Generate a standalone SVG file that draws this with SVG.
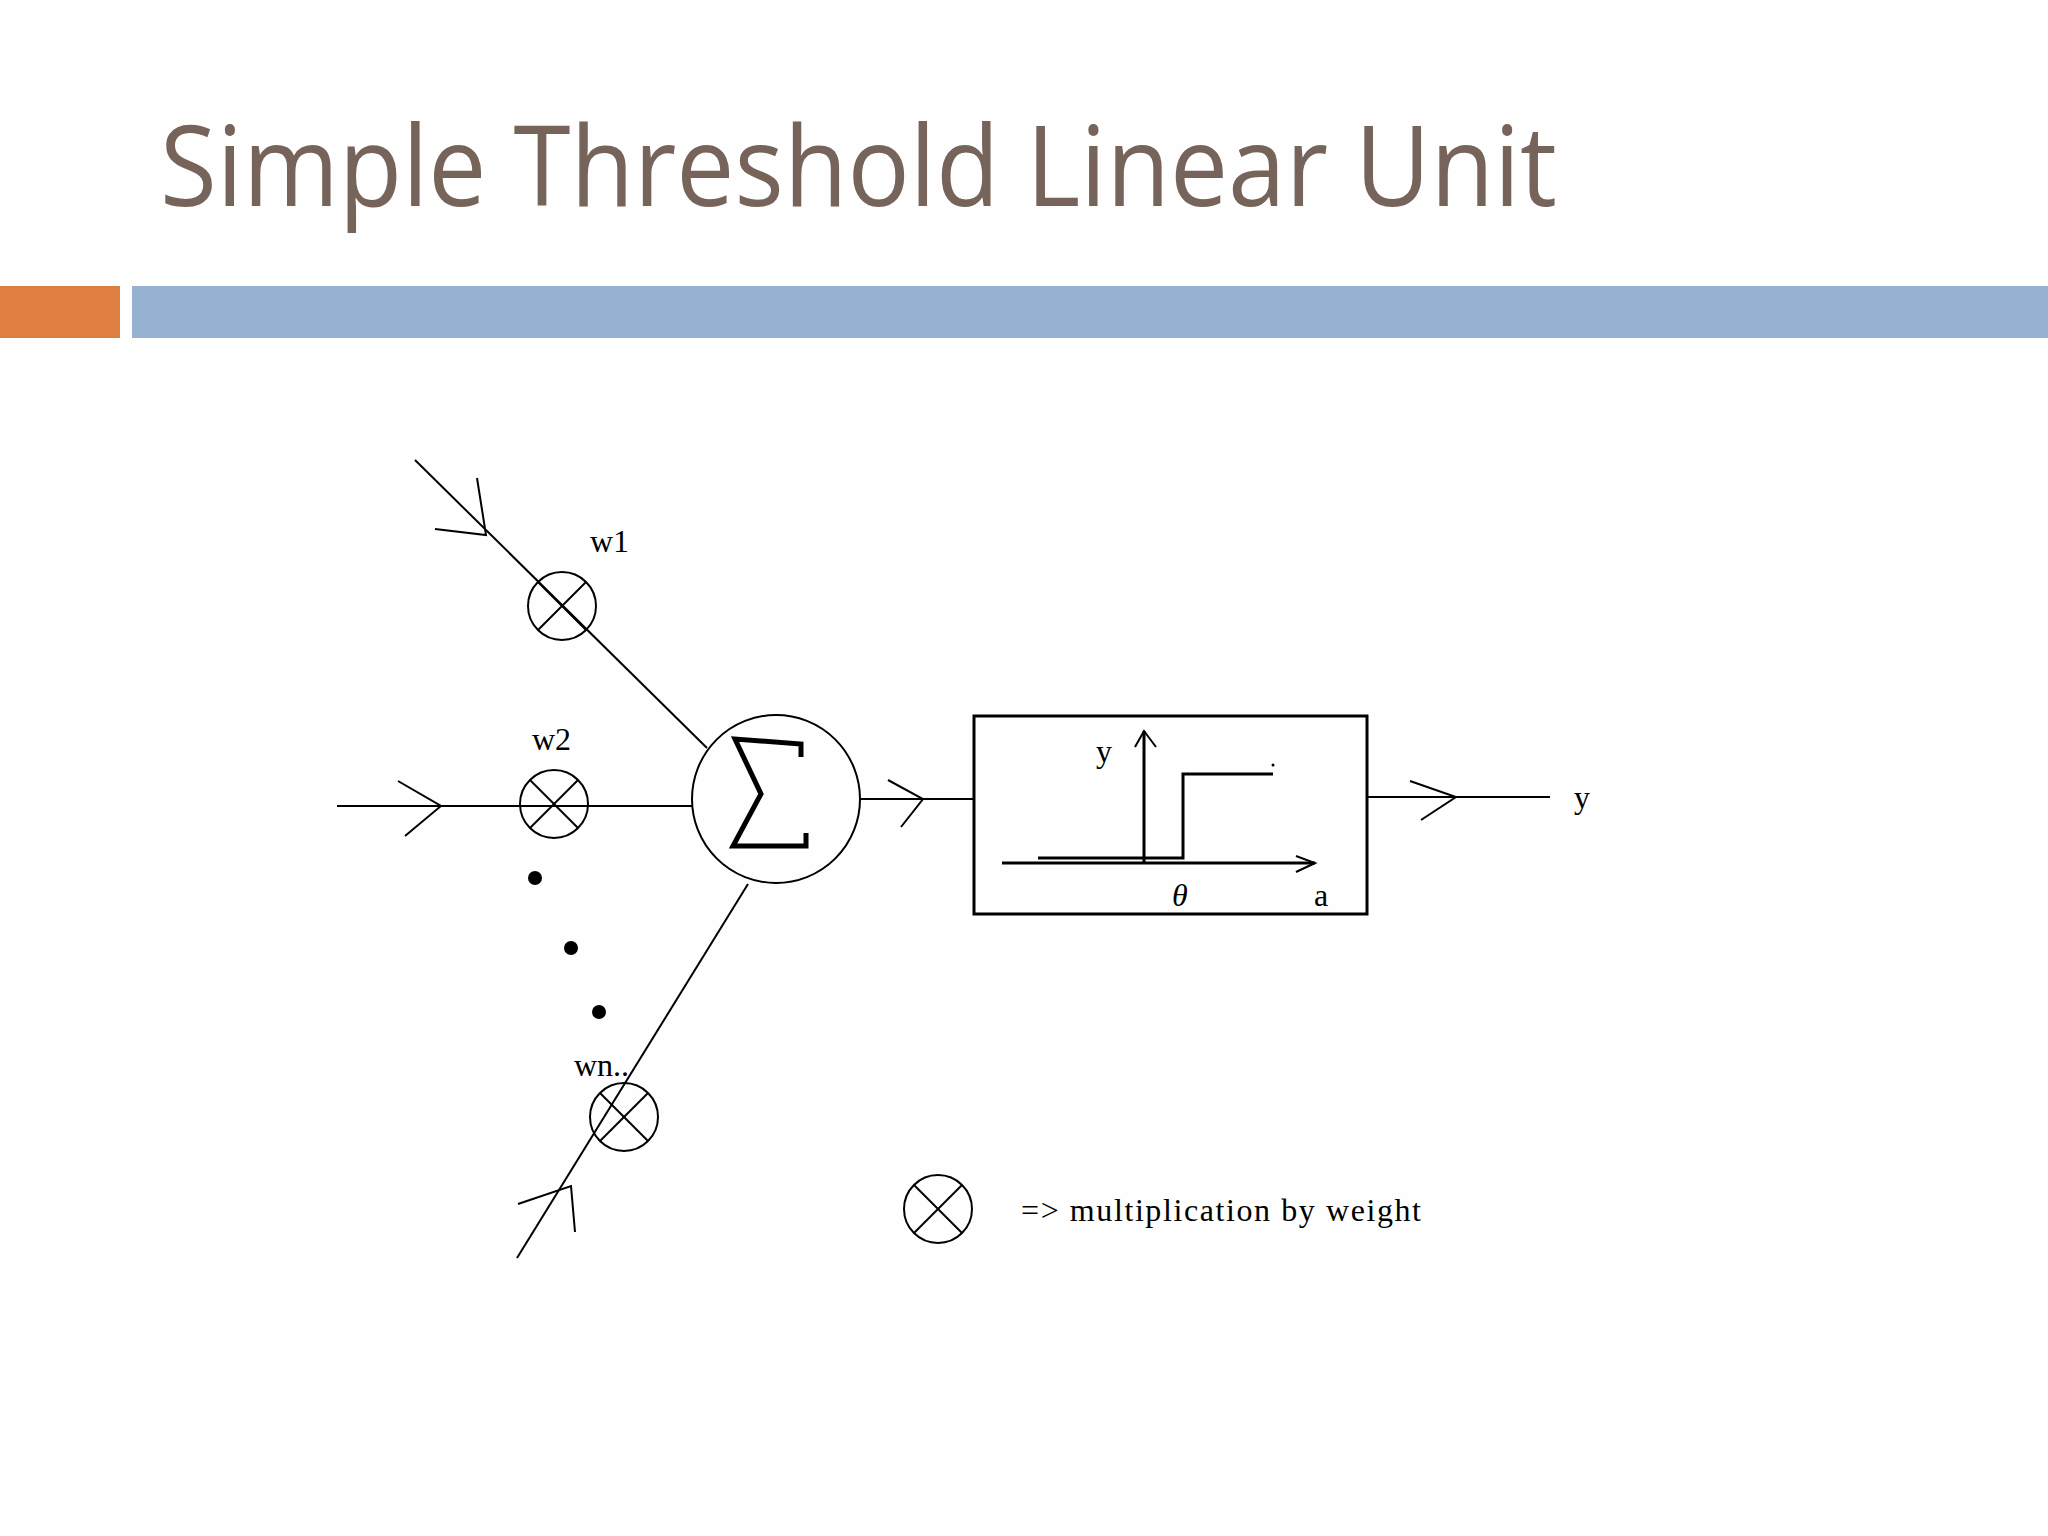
<svg xmlns="http://www.w3.org/2000/svg" width="2048" height="1536" viewBox="0 0 2048 1536">
<style>
.ln{stroke:#000;stroke-width:2;fill:none}
.th{stroke:#000;stroke-width:3;fill:none}
.lb{font-family:"Liberation Serif",serif;font-size:32px;fill:#000}
</style>
<defs>
<g id="mul"><circle r="34" class="ln"/><line x1="-24" y1="-24" x2="24" y2="24" class="ln"/><line x1="24" y1="-24" x2="-24" y2="24" class="ln"/></g>
</defs>
<rect width="2048" height="1536" fill="#fefefe"/>
<text x="160" y="206" font-family="'Open Sans',sans-serif" font-size="112" fill="#76645A" textLength="1397" lengthAdjust="spacingAndGlyphs">Simple Threshold Linear Unit</text>
<rect x="0" y="286" width="120" height="52" fill="#E07F42"/>
<rect x="132" y="286" width="1916" height="52" fill="#95B3D0"/>
<g id="connectors">
<line x1="415" y1="460" x2="707" y2="748" class="ln"/>
<polyline points="435,529 486,535 477,478" class="ln"/>
<line x1="337" y1="806" x2="692" y2="806" class="ln"/>
<polyline points="398,781 441,806 405,836" class="ln"/>
<line x1="748" y1="884" x2="517" y2="1258" class="ln"/>
<polyline points="518,1204 571,1186 575,1232" class="ln"/>
<line x1="859" y1="799" x2="974" y2="799" class="ln"/>
<polyline points="888,780 923,799 901,827" class="ln"/>
<line x1="1367" y1="797" x2="1550" y2="797" class="ln"/>
<polyline points="1410,781 1456,797 1421,820" class="ln"/>
</g>
<g id="w1"><use href="#mul" x="562" y="606"/><text x="590" y="552" class="lb">w1</text></g>
<g id="w2"><use href="#mul" x="554" y="804"/><text x="532" y="750" class="lb">w2</text></g>
<g id="wn"><use href="#mul" x="624" y="1117"/><text x="574" y="1076" class="lb">wn..</text></g>
<g id="dots"><circle cx="535" cy="878" r="7"/><circle cx="571" cy="948" r="7"/><circle cx="599" cy="1012" r="7"/></g>
<g id="sum"><circle cx="776" cy="799" r="84" class="ln"/>
<polyline points="801,757 801,744 735,739 761,794 733,846 806,846 806,833" stroke="#000" stroke-width="5" fill="none"/></g>
<g id="threshold">
<rect x="974" y="716" width="393" height="198" class="th"/>
<line x1="1144" y1="863" x2="1144" y2="731" class="th"/>
<polyline points="1135,747 1144,731 1156,747" class="ln"/>
<text x="1096" y="762" class="lb">y</text>
<line x1="1002" y1="863" x2="1315" y2="863" class="th"/>
<polyline points="1296,856 1315,863 1296,872" class="ln"/>
<polyline points="1038,858 1183,858 1183,774 1273,774" class="th"/>
<circle cx="1273" cy="765" r="1.5"/>
<text x="1172" y="906" class="lb" font-style="italic">θ</text>
<text x="1314" y="906" class="lb">a</text>
</g>
<text x="1574" y="808" class="lb">y</text>
<g id="legend"><use href="#mul" x="938" y="1209"/><text x="1021" y="1221" class="lb" textLength="400">=&gt; multiplication by weight</text></g>
</svg>
